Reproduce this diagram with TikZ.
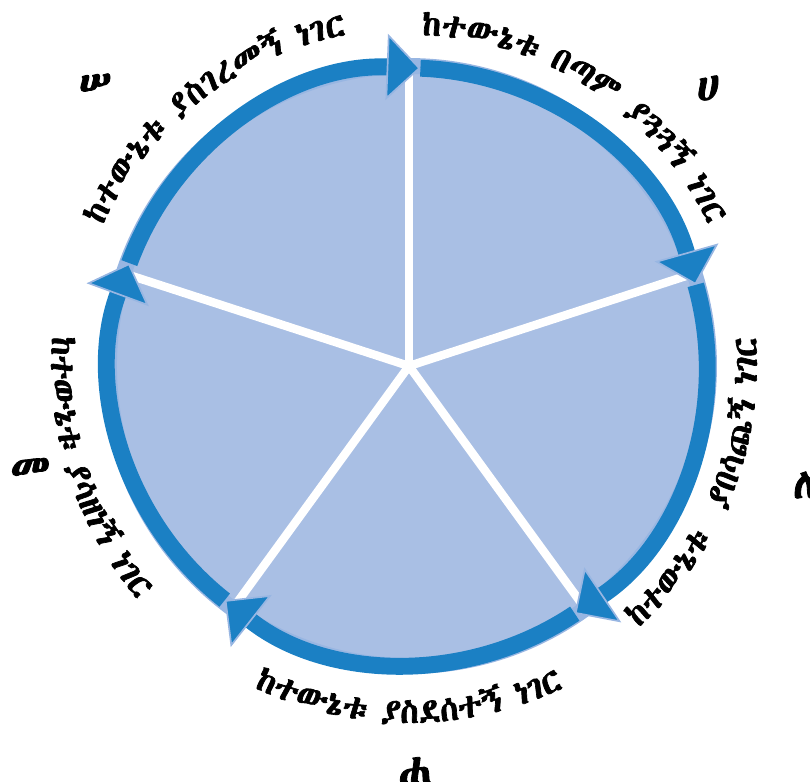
\documentclass[tikz,border=0pt]{standalone}
\usepackage{fontspec}
\usetikzlibrary{arrows.meta,decorations.text}
\definecolor{ring}{HTML}{1B80C4}
\definecolor{wedge}{HTML}{A9BFE4}
\definecolor{rim}{HTML}{98B6E2}
\IfFontExistsTF{Abyssinica SIL}
  {\newfontfamily\ethfont[FakeBold=2]{Abyssinica SIL}}
  {\IfFontExistsTF{FreeSerif}
    {\newfontfamily\ethfont[FakeBold=2]{FreeSerif}}
    {\newfontfamily\ethfont{DejaVu Sans}}}

\begin{document}
\begin{tikzpicture}[x=0.025cm, y=0.025cm,
  band/.style={ring, line width=12pt,
    -{Triangle[width=47pt, length=24pt, line width=1.2pt, fill=ring, color=rim]}},
  spoke/.style={white, line width=6pt},
  letter/.style={font=\ethfont\fontsize{30}{34}\selectfont},
  ringtext/.style={decorate, decoration={text along path, text align=center,
    text={|\ethfont\fontsize{24}{28}\selectfont|#1}}}]
\useasboundingbox (-409,-416) rectangle (401,366);
% disc and rim
\fill[wedge] (0,0) circle (298);
\draw[rim, line width=11.3pt] (0,0) circle (300);
% spokes
\foreach \a in {90,18,-54,-126,162}
  \draw[spoke] (0,0) -- (\a:292);
% arrows round the ring
\foreach \a in {90,18,-54,-126,162}
  \draw[band] (\a-2.2:298) arc[start angle=\a-2.2, end angle=\a-74.2, radius=298];
% texts along the ring
\path[ringtext={ከተውኔቱ በጣም ያጓጓኝ ነገር}] (106.5:331) arc[start angle=106.5, end angle=6.5, radius=331];
\path[ringtext={ከተውኔቱ{ } ያበሳጨኝ ነገር}] (-72:348) arc[start angle=-72, end angle=28, radius=348];
\path[ringtext={ከተውኔቱ ያስደሰተኝ ነገር}] (-140:357) arc[start angle=-140, end angle=-40, radius=357];
\path[ringtext={ከተውኔቱ ያሳዘነኝ ነገር}] (148:358) arc[start angle=148, end angle=248, radius=358];
\path[ringtext={ከተውኔቱ ያስገረመኝ ነገር}] (178:337) arc[start angle=178, end angle=78, radius=337];
% letters
\node[letter] (ha) at (299,278) {ሀ};
\node[letter] (le) at (396,-119) {ለ};
\node[letter] (hha) at (6,-404) {ሐ};
\node[letter] (me) at (-379,-104) {መ};
\node[letter] (sse) at (-314,281) {ሠ};
\end{tikzpicture}
\end{document}
